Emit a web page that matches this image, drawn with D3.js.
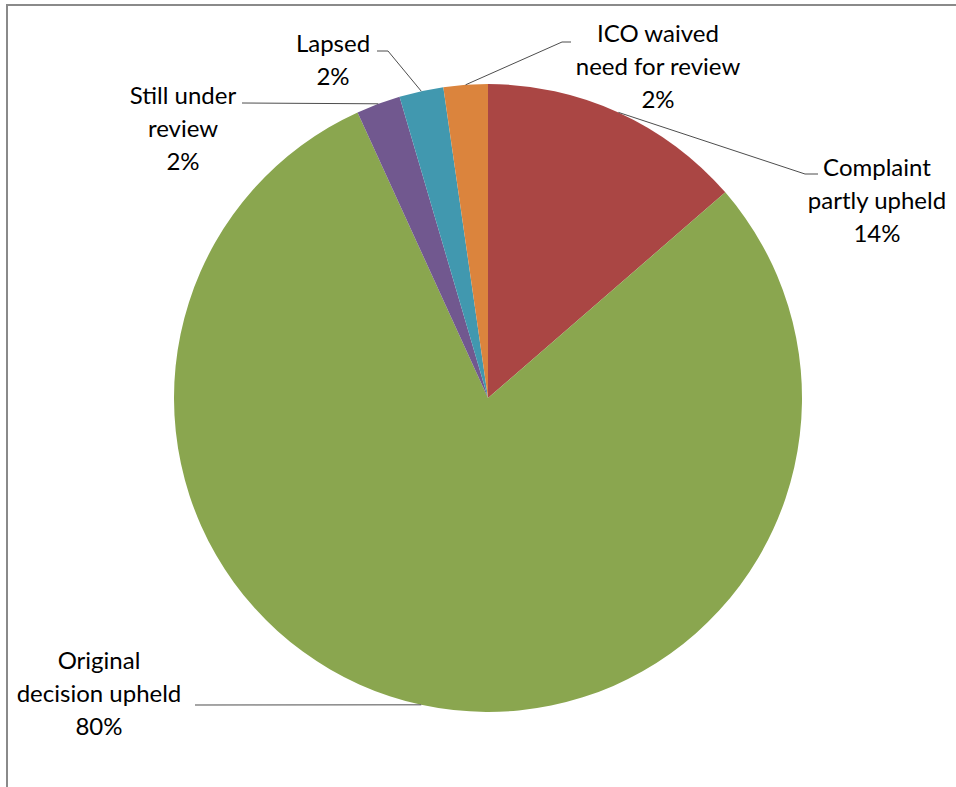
<!DOCTYPE html>
<html>
<head>
<meta charset="utf-8">
<title>Outcome of internal reviews</title>
<style>
  body { margin: 0; background: #fff; }
  .label { font-family: Lato, "Open Sans", sans-serif; font-size: 24px; fill: #000; }
  .leader { fill: none; stroke: #4d4d4d; stroke-width: 1px; }
  .frame { fill: none; stroke: #8a8a8a; stroke-width: 2px; }
</style>
</head>
<body>
<svg width="956" height="787"></svg>
<script src="https://d3js.org/d3.v7.min.js"></script>
<script>
// slices, clockwise from 12 o'clock
const categories = ["Complaint partly upheld", "Original decision upheld", "Still under review", "Lapsed", "ICO waived need for review"];
const counts = [6, 35, 1, 1, 1];
const colours = ["#AA4644", "#8AA64F", "#71588F", "#4198AF", "#DB843D"];
// how the category names wrap in the labels
const labelLines = [["Complaint", "partly upheld"], ["Original", "decision upheld"], ["Still under", "review"], ["Lapsed"], ["ICO waived", "need for review"]];

// label placement: text centre x, first baseline, leader elbow, end of the short tail
const labelLayout = [
  { x: 877, y: 176, elbow: [805, 174], tail: 818 },
  { x: 99,  y: 669, elbow: [195, 705], tail: 195 },
  { x: 183, y: 104, elbow: [242, 103], tail: 242 },
  { x: 333, y: 52,  elbow: [388, 51],  tail: 377 },
  { x: 658, y: 42,  elbow: [562, 42],  tail: 571 }
];

const svg = d3.select("svg");
const cx = 488, cy = 398, r = 314, lineH = 33;
const total = d3.sum(counts);
const pct = d3.format(".0%");

// grey frame, only top and left edges show
svg.append("path").attr("class", "frame").attr("d", "M7,787V5H956");

const pie = d3.pie().sort(null).value(d => d);
const arcs = pie(counts);
const arc = d3.arc().innerRadius(0).outerRadius(r);

const g = svg.append("g").attr("transform", `translate(${cx},${cy})`);
g.selectAll("path")
  .data(arcs)
  .join("path")
  .attr("d", arc)
  .attr("fill", (d, i) => colours[i]);

// leader lines from the middle of each slice's rim
arcs.forEach((d, i) => {
  const a = (d.startAngle + d.endAngle) / 2;
  const px = cx + r * Math.sin(a), py = cy - r * Math.cos(a);
  const L = labelLayout[i];
  const p = d3.path();
  p.moveTo(px, py);
  p.lineTo(L.elbow[0], L.elbow[1]);
  p.lineTo(L.tail, L.elbow[1]);
  svg.append("path").attr("class", "leader").attr("d", p.toString());

  const lines = labelLines[i].concat([pct(d.value / total)]);
  const t = svg.append("text").attr("class", "label").attr("text-anchor", "middle");
  lines.forEach((s, k) => {
    t.append("tspan").attr("x", L.x).attr("y", L.y + k * lineH).text(s);
  });
});
</script>
</body>
</html>
